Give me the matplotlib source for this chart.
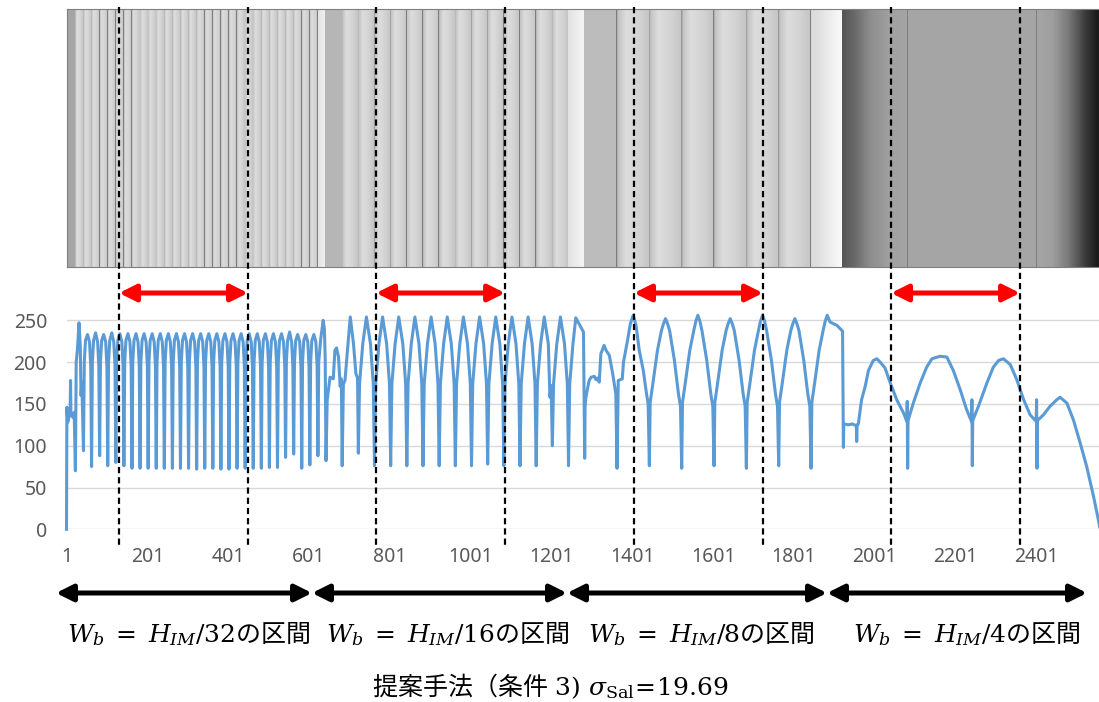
import numpy as np
import matplotlib.pyplot as plt
from matplotlib.patches import FancyArrowPatch
from matplotlib.transforms import blended_transform_factory

plt.rcParams['mathtext.fontset'] = 'custom'
plt.rcParams['mathtext.rm'] = 'DejaVu Serif'
plt.rcParams['mathtext.it'] = 'DejaVu Serif:italic'
plt.rcParams['mathtext.sf'] = 'Noto Sans CJK JP'
plt.rcParams['font.family'] = ['Noto Sans', 'Noto Sans CJK JP']

# ---- data: (column, value) vertices ----
seg1 = [
    (1, 0), (2, 146), (4, 128), (7, 135), (10, 138), (11, 178), (12, 136), (17, 134), (20, 140), (23, 70),
    (25, 200), (28, 215), (32, 247), (35, 220), (37, 160), (39, 176), (43, 94),
    (45, 200), (48, 226), (53, 233), (58, 224), (61, 195), (63, 75),
    (65, 200), (68, 226), (73, 235), (78, 224), (81, 195), (83, 88),
    (85, 200), (88, 226), (93, 233), (98, 224), (101, 195), (103, 76),
    (105, 200), (108, 226), (113, 235), (118, 224), (121, 195), (123, 80),
    (125, 200), (128, 226), (133, 234), (138, 224), (141, 195), (143, 76),
    (145, 200), (148, 226), (153, 234), (158, 224), (161, 195), (163, 73),
    (165, 200), (168, 226), (173, 234), (178, 224), (181, 195), (183, 73),
    (185, 200), (188, 226), (193, 234), (198, 224), (201, 195), (203, 73),
    (205, 200), (208, 226), (213, 234), (218, 224), (221, 195), (223, 73),
    (225, 200), (228, 226), (233, 234), (238, 224), (241, 195), (243, 73),
    (245, 200), (248, 226), (253, 234), (258, 224), (261, 195), (263, 73),
    (265, 200), (268, 226), (273, 234), (278, 224), (281, 195), (283, 73),
    (285, 200), (288, 226), (293, 234), (298, 224), (301, 195), (303, 73),
    (305, 200), (308, 226), (313, 234), (318, 224), (321, 195), (323, 72),
    (325, 200), (328, 226), (333, 234), (338, 224), (341, 195), (343, 73),
    (345, 200), (348, 226), (353, 234), (358, 224), (361, 195), (363, 73),
    (365, 200), (368, 226), (373, 234), (378, 224), (381, 195), (383, 72),
    (385, 200), (388, 226), (393, 234), (398, 224), (401, 195), (403, 72),
    (405, 200), (408, 226), (413, 234), (418, 224), (421, 195), (423, 73),
    (425, 200), (428, 226), (433, 234), (438, 224), (441, 195), (443, 73),
    (445, 200), (448, 226), (453, 234), (458, 224), (461, 195), (463, 73),
    (465, 200), (468, 226), (473, 234), (478, 224), (481, 195), (483, 73),
    (485, 200), (488, 226), (493, 234), (498, 224), (501, 195), (503, 74),
    (505, 200), (508, 226), (513, 234), (518, 224), (521, 195), (523, 74),
    (525, 200), (528, 226), (533, 234), (538, 224), (541, 195), (543, 86),
    (545, 200), (548, 226), (553, 236), (558, 224), (561, 195), (563, 90),
    (565, 200), (568, 226), (573, 233), (578, 224), (581, 195), (583, 73),
    (585, 200), (588, 226), (593, 233), (598, 224), (601, 195), (603, 77),
    (605, 200), (608, 226), (613, 233), (618, 224), (621, 195), (623, 88),
    (625, 200), (630, 228), (636, 250), (639, 240), (641, 205), (643, 82),
]
seg2 = [
    (646, 155), (653, 182), (661, 180), (665, 214), (669, 217), (674, 206), (678, 171), (681, 180), (683, 76),
    (686, 174), (690, 178), (694, 202), (703, 254), (711, 222), (717, 186), (721, 181), (723, 91),
    (726, 174), (734, 222), (743, 254), (753, 222), (760, 174), (763, 76),
    (766, 174), (774, 222), (783, 254), (793, 222), (800, 174), (803, 76),
    (806, 174), (814, 222), (823, 254), (833, 222), (840, 174), (843, 76),
    (846, 174), (854, 222), (863, 254), (873, 222), (880, 174), (883, 76),
    (886, 174), (894, 222), (903, 254), (913, 222), (920, 174), (923, 76),
    (926, 174), (934, 222), (943, 254), (953, 222), (960, 174), (963, 76),
    (966, 174), (974, 222), (983, 254), (993, 222), (1000, 174), (1003, 76),
    (1006, 174), (1014, 222), (1023, 254), (1033, 222), (1040, 174), (1043, 78),
    (1046, 174), (1054, 222), (1063, 254), (1073, 222), (1080, 174), (1083, 76),
    (1086, 174), (1094, 222), (1103, 254), (1113, 222), (1120, 174), (1123, 76),
    (1126, 174), (1134, 222), (1143, 254), (1153, 222), (1160, 174), (1163, 76),
    (1166, 174), (1174, 222), (1183, 254), (1193, 222), (1197, 158), (1200, 172), (1203, 100),
    (1206, 174), (1214, 222), (1223, 254), (1233, 222), (1240, 174), (1243, 76),
    (1246, 174), (1254, 222), (1261, 253), (1270, 245), (1280, 236), (1283, 85),
]
seg3 = [
    (1284, 147), (1286, 158), (1294, 178), (1299, 182), (1307, 183), (1311, 179), (1315, 181), (1319, 176),
    (1323, 210), (1331, 220), (1336, 214), (1344, 208), (1352, 187), (1360, 162), (1363, 73),
    (1366, 178), (1376, 180), (1379, 200), (1389, 226), (1396, 246), (1403, 256), (1410, 244), (1418, 214),
    (1428, 190), (1436, 162), (1440, 150), (1443, 76),
    (1445, 152), (1451, 172), (1463, 214), (1473, 238), (1478, 246), (1483, 252), (1488, 246), (1493, 238),
    (1505, 202), (1515, 162), (1520, 147), (1523, 73),
    (1525, 152), (1531, 172), (1543, 214), (1553, 238), (1558, 249), (1563, 256), (1568, 249), (1573, 238),
    (1585, 202), (1595, 162), (1600, 147), (1603, 76),
    (1605, 152), (1611, 172), (1623, 214), (1633, 238), (1638, 246), (1643, 252), (1648, 246), (1653, 238),
    (1665, 202), (1675, 162), (1680, 147), (1683, 73),
    (1685, 152), (1691, 172), (1703, 214), (1713, 238), (1718, 249), (1723, 256), (1728, 249), (1733, 238),
    (1745, 202), (1755, 162), (1760, 147), (1763, 76),
    (1765, 152), (1771, 172), (1783, 214), (1793, 238), (1798, 246), (1803, 252), (1808, 246), (1813, 238),
    (1825, 202), (1835, 162), (1840, 147), (1843, 73),
    (1845, 152), (1851, 172), (1863, 214), (1873, 238), (1878, 249), (1883, 256), (1890, 248), (1898, 246),
    (1907, 244), (1915, 240), (1921, 237),
]
seg4 = [
    (1923, 98), (1924, 126), (1935, 125), (1945, 126), (1955, 124), (1956, 105), (1957, 125), (1960, 126),
    (1968, 155), (1977, 171), (1985, 190), (1997, 202), (2006, 204), (2014, 200), (2026, 193), (2039, 175),
    (2055, 155), (2072, 139), (2080, 129), (2081, 153), (2082, 73), (2083, 130),
    (2096, 151), (2113, 175), (2129, 194), (2142, 204), (2162, 207), (2179, 206), (2195, 190), (2212, 167),
    (2228, 143), (2240, 129), (2241, 155), (2242, 76), (2243, 130),
    (2257, 147), (2278, 175), (2294, 194), (2307, 202), (2319, 204), (2336, 197), (2352, 179), (2369, 155),
    (2385, 137), (2400, 129), (2401, 155), (2402, 73), (2403, 130),
    (2418, 137), (2434, 147), (2451, 155), (2459, 158), (2476, 151), (2492, 131), (2509, 103), (2525, 75),
    (2542, 39), (2554, 11), (2557, 3),
]

x_ticks = [1, 201, 401, 601, 801, 1001, 1201, 1401, 1601, 1801, 2001, 2201, 2401]
y_ticks = [0, 50, 100, 150, 200, 250]
dash_x = [131, 450, 767, 1086, 1405, 1724, 2041, 2360]
section_labels = [r'$W_b\;=\;H_{IM}/32\mathsf{の区間}$', r'$W_b\;=\;H_{IM}/16\mathsf{の区間}$',
                  r'$W_b\;=\;H_{IM}/8\mathsf{の区間}$', r'$W_b\;=\;H_{IM}/4\mathsf{の区間}$']
caption = r'$\mathsf{提案手法（条件}\ 3)\ \sigma_{\mathrm{Sal}}\!=\!19.69$'

# test strip: 4 sections of 640 columns, stripes per section
stripe_counts = [32, 16, 8, 4]
stripe_t = [0.0, 0.06, 0.3, 0.7, 1.0]
stripe_g = [140, 195, 220, 210, 196]
first_g = [165, 182, 188]
last_lo = [225, 225, 215]
last_hi = [240, 245, 250]
seg4_t = [0, 30, 67, 117, 160, 480, 520, 560, 600, 640]
seg4_g = [85, 105, 140, 160, 165, 165, 158, 120, 60, 15]

series = seg1 + seg2 + seg3 + seg4
xs = [p[0] for p in series]
ys = [p[1] for p in series]

# build strip image
gray = np.zeros(2560)
for s in range(3):
    w = 640 // stripe_counts[s]
    for c in range(s * 640, (s + 1) * 640):
        k = (c - s * 640) // w
        t = ((c - s * 640) % w) / w
        if k == 0:
            gray[c] = first_g[s]
        elif k == stripe_counts[s] - 1:
            gray[c] = last_lo[s] + (last_hi[s] - last_lo[s]) * t
        else:
            gray[c] = np.interp(t, stripe_t, stripe_g)
        if t == 0 and k > 0:
            gray[c] = 125
gray[1920:] = np.interp(np.arange(640), seg4_t, seg4_g)
for d in (160, 320, 480):
    gray[1920 + d] = 125

W, H = 1099, 702
fig = plt.figure(figsize=(W / 100, H / 100), dpi=100)

ax_img = fig.add_axes([67 / W, 1 - 267 / H, 1032 / W, 258 / H])
ax_img.imshow(gray[None, :], cmap='gray', vmin=0, vmax=255, aspect='auto',
              extent=(0.5, 2560.5, 0, 1), interpolation='nearest')
ax_img.set_xlim(1, 2555.4)
ax_img.set_xticks([])
ax_img.set_yticks([])
for sp in ax_img.spines.values():
    sp.set_color('#7f7f7f')
    sp.set_linewidth(0.8)

ax = fig.add_axes([66.5 / W, 1 - 529.3 / H, 1032.5 / W, (529.3 - 303.6) / H])
ax.plot(xs, ys, color='#5B9BD5', lw=2.2, solid_joinstyle='round', clip_on=False, zorder=3)
ax.set_xlim(1, 2555.4)
ax.set_ylim(0, 270)
ax.set_yticks(y_ticks)
ax.set_xticks(x_ticks)
ax.set_xticklabels([str(v) for v in x_ticks])
ax.tick_params(length=0, labelsize=14, labelcolor='#595959')
ax.tick_params(axis='y', pad=14)
ax.tick_params(axis='x', pad=13)
ax.grid(axis='y', color='#d9d9d9', lw=1)
ax.set_axisbelow(True)
for sp in ax.spines.values():
    sp.set_visible(False)

trans = blended_transform_factory(ax.transData, fig.transFigure)
for xd in dash_x:
    ax.plot([xd, xd], [1 - 7 / H, 1 - 545 / H], transform=trans, color='black',
            lw=1.6, ls=(0, (2.8, 1.8)), clip_on=False, zorder=5)

for i in range(0, len(dash_x), 2):
    ax.annotate('', xy=(dash_x[i + 1], 1 - 293 / H), xytext=(dash_x[i], 1 - 293 / H),
                xycoords=trans, textcoords=trans, annotation_clip=False,
                arrowprops=dict(arrowstyle='<|-|>,head_length=1.0,head_width=0.5',
                                color='red', lw=3.6, shrinkA=0, shrinkB=0, mutation_scale=10))

arrow_px = [56, 312, 567, 827, 1087]
for a, b in zip(arrow_px[:-1], arrow_px[1:]):
    fig.patches.append(FancyArrowPatch(
        (a / W, 1 - 593 / H), (b / W, 1 - 593 / H), transform=fig.transFigure,
        arrowstyle='<|-|>,head_length=1.0,head_width=0.5', color='black', lw=3.6,
        shrinkA=0, shrinkB=0, mutation_scale=10))

label_cx = [189, 448, 701, 967]
for cx, lab in zip(label_cx, section_labels):
    fig.text(cx / W, 1 - 634 / H, lab, ha='center', va='center', fontsize=18)

fig.text(550 / W, 1 - 686 / H, caption, ha='center', va='center', fontsize=18)

fig.savefig('out.png', dpi=100)
